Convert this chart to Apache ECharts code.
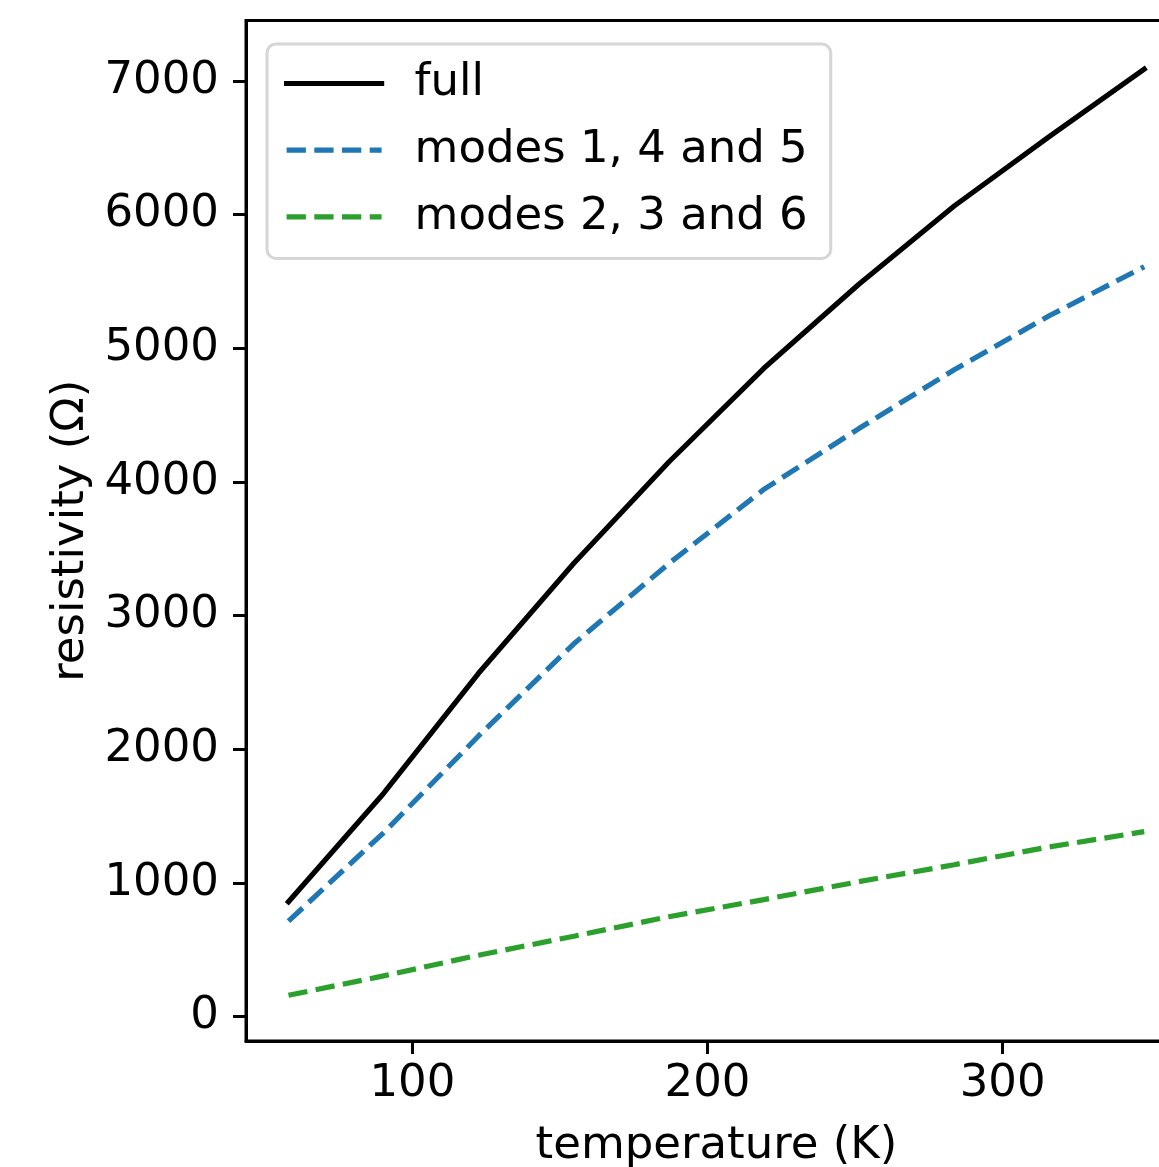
<!DOCTYPE html>
<html>
<head>
<meta charset="utf-8">
<script src="https://cdn.jsdelivr.net/npm/echarts@6/dist/echarts.min.js"></script>
<style>
  html, body { margin: 0; padding: 0; background: #ffffff; }
  #chart { width: 1159px; height: 1167px; }
</style>
</head>
<body>
<div id="chart"></div>
<script>
// Temperature sweep (K) and resistivity contributions (Ω)
const temperature = [58, 90.2, 122.4, 154.7, 186.9, 219.1, 251.3, 283.6, 315.8, 348];
const fullRho     = [860, 1670, 2569, 3392, 4150, 4851, 5480, 6065, 6584, 7090];
const modes145Rho = [715, 1375, 2100, 2790, 3390, 3945, 4400, 4840, 5244, 5611];
const modes236Rho = [160, 305, 460, 602, 748, 876, 1010, 1137, 1270, 1384];

const seriesNames = ['full', 'modes 1, 4 and 5', 'modes 2, 3 and 6'];
const xTickValues = [100, 200, 300];
const yTickValues = [0, 1000, 2000, 3000, 4000, 5000, 6000, 7000];

const FONT = '"DejaVu Sans", sans-serif';
const FS = 45;
const LW = 5.2;
const DASH = [19.3, 8.4];

const pairs = ys => temperature.map((t, i) => [t, ys[i]]);
const plain = v => String(v);

const chart = echarts.init(document.getElementById('chart'), null, { renderer: 'canvas' });

chart.setOption({
  animation: false,
  backgroundColor: '#ffffff',
  textStyle: { fontFamily: FONT, color: '#000' },
  grid: {
    left: 246, top: 20.5, width: 941, height: 1020.5,
    outerBoundsMode: 'none',
    containLabel: false,
    show: true, borderColor: '#000', borderWidth: 3, backgroundColor: 'transparent'
  },
  xAxis: {
    type: 'value',
    position: 'bottom',
    min: 43.6, max: 362.5,
    name: 'temperature (K)',
    nameLocation: 'middle',
    nameGap: 83,
    nameTextStyle: { fontFamily: FONT, fontSize: FS, color: '#000' },
    axisLine: { show: true, onZero: false, lineStyle: { color: '#000', width: 3 } },
    splitLine: { show: false },
    axisTick: { show: true, inside: false, length: 13, lineStyle: { color: '#000', width: 3 }, customValues: xTickValues },
    axisLabel: { fontFamily: FONT, fontSize: FS, color: '#000', margin: 21, formatter: plain, customValues: xTickValues }
  },
  yAxis: {
    type: 'value',
    position: 'left',
    min: -182, max: 7453,
    name: 'resistivity (Ω)',
    nameLocation: 'middle',
    nameGap: 144,
    nameTextStyle: { fontFamily: FONT, fontSize: FS, color: '#000' },
    axisLine: { show: true, onZero: false, lineStyle: { color: '#000', width: 3 } },
    splitLine: { show: false },
    axisTick: { show: true, inside: false, length: 13, lineStyle: { color: '#000', width: 3 }, customValues: yTickValues },
    axisLabel: { fontFamily: FONT, fontSize: FS, color: '#000', margin: 27, formatter: plain, customValues: yTickValues }
  },
  legend: {
    show: true,
    orient: 'vertical',
    left: 267, top: 44,
    padding: [17, 23, 19, 17],
    itemGap: 21.7,
    itemWidth: 95,
    itemHeight: 14,
    backgroundColor: 'rgba(255,255,255,0.8)',
    borderColor: '#d6d6d6',
    borderWidth: 3,
    borderRadius: 9,
    itemStyle: { color: 'rgba(0,0,0,0)', borderWidth: 0, opacity: 0 },
    lineStyle: { width: LW },
    textStyle: { fontFamily: FONT, fontSize: FS, color: '#000', padding: [0, 0, 0, 28] },
    data: seriesNames
  },
  series: [
    {
      name: seriesNames[0], type: 'line', data: pairs(fullRho),
      symbol: 'none', lineStyle: { color: '#000000', width: LW, type: 'solid', cap: 'square' },
      itemStyle: { color: '#000000' }, z: 3
    },
    {
      name: seriesNames[1], type: 'line', data: pairs(modes145Rho),
      symbol: 'none', lineStyle: { color: '#1f77b4', width: LW, type: DASH },
      itemStyle: { color: '#1f77b4' }, z: 2
    },
    {
      name: seriesNames[2], type: 'line', data: pairs(modes236Rho),
      symbol: 'none', lineStyle: { color: '#2ca02c', width: LW, type: DASH },
      itemStyle: { color: '#2ca02c' }, z: 2
    }
  ]
});
</script>
</body>
</html>
